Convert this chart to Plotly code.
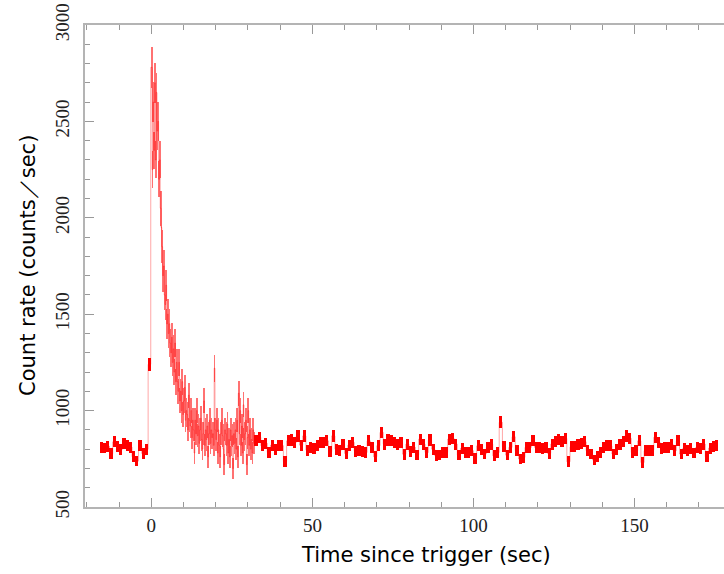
import plotly.graph_objects as go

# ---- data (count rate, counts/sec) ----
# pre-trigger, 1-s bins starting at t = -16
pre_start = -16.0
pre_rate = [811, 806, 815, 776, 838, 816, 799, 828, 821, 811, 761, 738, 818, 778, 799, 1240]

# burst, 0.25-s bins starting at t = 0
burst_start = 0.0
burst_rate = [
    2780, 2250, 2600, 2350,
    2700, 2300, 2650, 2450,
    2500, 2200, 2300, 2050,
    1950, 1850, 1700, 1750,
    1600, 1550, 1650, 1450,
    1500, 1400, 1450, 1350,
    1300, 1380, 1250, 1320,
    1200, 1350, 1150, 1250,
    1150, 1100, 1250, 1050,
    1100, 1000, 1150, 980,
    1050, 1120, 950, 1000,
    980, 900, 1080, 950,
    920, 1000, 860, 950,
    900, 780, 950, 880,
    1000, 870, 920, 830,
    900, 960, 850, 800,
    880, 1050, 820, 900,
    850, 920, 760, 880,
    950, 830, 900, 860,
    880, 820, 1220, 900,
    850, 950, 780, 900,
    820, 760, 880, 950,
    870, 800, 720, 900,
    880, 820, 930, 780,
    850, 760, 900, 820,
    870, 700, 880, 830,
    900, 800, 950, 760,
    1090, 880, 1000, 820,
    920, 780, 1030, 850,
    880, 950, 720, 860,
    1000, 820, 900, 800,
    850, 780, 900, 830,
]

# post-burst, 1-s bins starting at t = 32
post_start = 32.0
post_rate = [
    845, 861, 818, 830, 783, 821, 800, 821, 818, 735, 843, 847, 835, 869, 821, 869,
    795, 808, 802, 821, 835, 835, 843, 787, 869, 800, 795, 826, 778, 821, 835, 790,
    795, 790, 783, 843, 808, 761, 818, 887, 826, 847, 843, 835, 826, 835, 774,
    826, 786, 809, 769, 852, 826, 783, 847, 800, 766, 769, 783, 783, 852, 856, 826,
    769, 804, 783, 783, 792, 752, 817, 800, 775, 809, 826, 766, 783, 939, 812, 769,
    809, 864, 792, 749, 757, 809, 809, 843, 809, 809, 804, 809, 778, 826, 838, 852,
    838, 856, 735, 812, 812, 826, 830, 838, 792, 775, 744, 761, 783, 809, 817, 817,
    775, 800, 826, 838, 869, 856, 783, 792, 843, 731, 792, 792, 795, 861, 835, 805,
    809, 809, 826, 792, 843, 775, 805, 792, 805, 780, 809, 805, 826, 761, 805, 812, 820,
]

x_ticks = [0, 50, 100, 150]
y_ticks = [500, 1000, 1500, 2000, 2500, 3000]


def segment(start, width, rates):
    centers = [start + width * (i + 0.5) for i in range(len(rates))]
    errs = [(r / width) ** 0.5 for r in rates]
    return centers, errs


pre_x, pre_e = segment(pre_start, 1.0, pre_rate)
bu_x, bu_e = segment(burst_start, 0.25, burst_rate)
po_x, po_e = segment(post_start, 1.0, post_rate)

# step line through all bins
all_x = pre_x + bu_x + po_x
all_y = pre_rate + burst_rate + post_rate

fig = go.Figure()

fig.add_trace(go.Scatter(
    x=all_x, y=all_y, mode="lines", line=dict(shape="hvh", color="rgba(255,0,0,0.35)", width=1),
    hoverinfo="skip", showlegend=False))

for xs, rs, es, w, op in [(pre_x, pre_rate, pre_e, 1.0, 1.0),
                          (bu_x, burst_rate, bu_e, 0.25, 0.55),
                          (po_x, post_rate, po_e, 1.0, 1.0)]:
    fig.add_trace(go.Bar(
        x=xs, y=[2 * e for e in es], base=[r - e for r, e in zip(rs, es)],
        width=w, marker=dict(color="#ff0000", line=dict(width=0)), opacity=op,
        showlegend=False))

axis_col = "#b4b4b4"
tick_font = dict(family="Liberation Serif", size=19, color="#222222")

fig.update_layout(
    width=724, height=574,
    margin=dict(l=85, r=0, t=25, b=67),
    paper_bgcolor="white", plot_bgcolor="white",
    barmode="overlay", bargap=0,
    xaxis=dict(range=[-20.6, 177.8], tickvals=x_ticks, ticks="inside", ticklen=9, tickwidth=1,
               tickcolor="#999999", showline=True, linecolor=axis_col, linewidth=2,
               mirror="ticks", showgrid=False, zeroline=False, tickfont=tick_font,
               minor=dict(dtick=10, tick0=0, ticks="inside", ticklen=5, tickcolor="#999999", showgrid=False)),
    yaxis=dict(range=[500, 3000], tickvals=y_ticks, ticks="inside", ticklen=9, tickwidth=1,
               tickcolor="#999999", showline=True, linecolor=axis_col, linewidth=2,
               mirror=False, showgrid=False, zeroline=False, tickfont=tick_font, tickangle=-90,
               ticklabelstandoff=6,
               minor=dict(dtick=100, tick0=0, ticks="inside", ticklen=5, tickcolor="#999999", showgrid=False)),
    annotations=[
        dict(text="Time since trigger (sec)", xref="paper", yref="paper", x=(426 - 85) / 639,
             y=(574 - 555 - 67) / 482, xanchor="center", yanchor="middle", showarrow=False,
             font=dict(family="DejaVu Sans", size=21, color="black")),
        dict(text="Count rate (counts／sec)", xref="paper", yref="paper", x=(28 - 85) / 639,
             y=0.5, xanchor="center", yanchor="middle", showarrow=False, textangle=-90,
             font=dict(family="DejaVu Sans", size=21, color="black")),
    ],
)

fig.write_html("out.html")
